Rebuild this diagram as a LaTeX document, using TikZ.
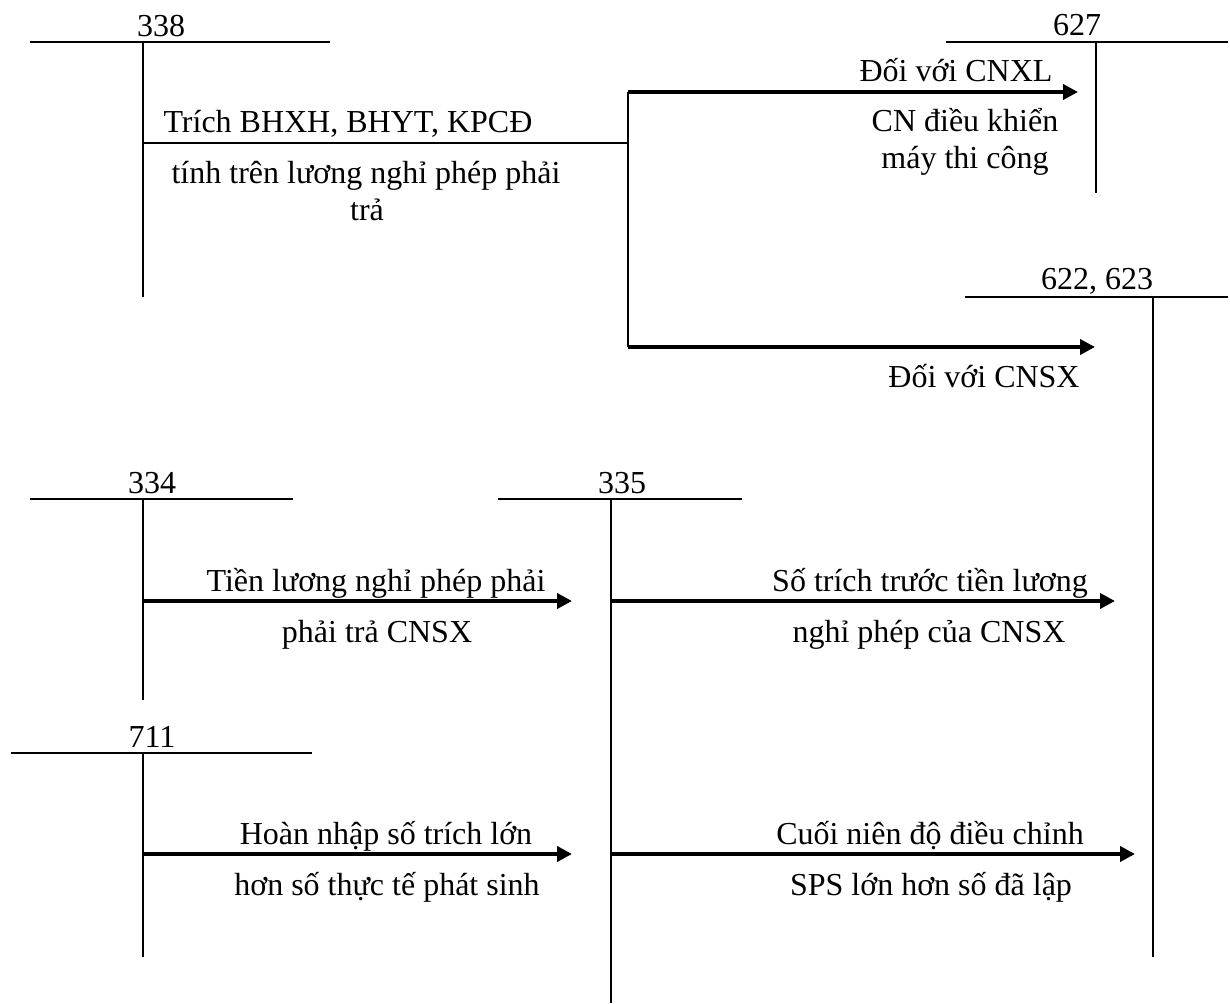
\documentclass[tikz,border=0pt]{standalone}
\usepackage{fontspec}
\setmainfont{Liberation Serif}
\usetikzlibrary{arrows.meta}
\begin{document}
\begin{tikzpicture}[x=1pt,y=-1pt,
  acct/.style={line width=2.5pt},
  tee/.style={line width=2pt},
  flow/.style={line width=4pt,-{Triangle[length=15pt,width=15pt]}},
  link/.style={line width=2pt},
  lbl/.style={font=\fontsize{32}{38}\selectfont, inner sep=0pt, anchor=base},
]
\fill[white] (0,0) rectangle (1230,1003);
\useasboundingbox (0,0) rectangle (1230,1003);

% ---- T-accounts ----
% 338
\coordinate (L338) at (30,42);  \coordinate (R338) at (330,42);
\coordinate (T338) at (143,42); \coordinate (B338) at (143,297);
\node[lbl] (n338) at (161,37) {338};
\draw[acct] (L338) -- (R338);
\draw[tee] (T338) -- (B338);
% 627
\coordinate (L627) at (946,42);  \coordinate (R627) at (1228,42);
\coordinate (T627) at (1096,42); \coordinate (B627) at (1096,193);
\node[lbl] (n627) at (1077,36) {627};
\draw[acct] (L627) -- (R627);
\draw[tee] (T627) -- (B627);
% 622, 623
\coordinate (L622) at (965,297);  \coordinate (R622) at (1228,297);
\coordinate (T622) at (1153,297); \coordinate (B622) at (1153,957);
\node[lbl] (n622) at (1097,289) {622, 623};
\draw[acct] (L622) -- (R622);
\draw[tee] (T622) -- (B622);
% 334
\coordinate (L334) at (30,499);  \coordinate (R334) at (293,499);
\coordinate (T334) at (143,499); \coordinate (B334) at (143,700);
\node[lbl] (n334) at (152,493) {334};
\draw[acct] (L334) -- (R334);
\draw[tee] (T334) -- (B334);
% 335
\coordinate (L335) at (498,499);  \coordinate (R335) at (742,499);
\coordinate (T335) at (611,499); \coordinate (B335) at (611,1003);
\node[lbl] (n335) at (622,493) {335};
\draw[acct] (L335) -- (R335);
\draw[tee] (T335) -- (B335);
% 711
\coordinate (L711) at (11,753);  \coordinate (R711) at (312,753);
\coordinate (T711) at (143,753); \coordinate (B711) at (143,957);
\node[lbl] (n711) at (152,747) {711};
\draw[acct] (L711) -- (R711);
\draw[tee] (T711) -- (B711);

% ---- connectors ----
\coordinate (s338) at (143,143);
\coordinate (j338) at (628,143);
\coordinate (jtop) at (628,92);
\coordinate (jbot) at (628,347);
\coordinate (e627) at (1078,92);
\coordinate (e622a) at (1095,347);
\draw[link] (s338) -- (j338);
\draw[link] (jtop) -- (jbot);
\draw[flow] (jtop) -- (e627);
\draw[flow] (jbot) -- (e622a);

\coordinate (s334) at (143,601);
\coordinate (e335a) at (572,601);
\coordinate (s335a) at (611,601);
\coordinate (e622b) at (1115,601);
\draw[flow] (s334) -- (e335a);
\draw[flow] (s335a) -- (e622b);

\coordinate (s711) at (143,854);
\coordinate (e335b) at (572,854);
\coordinate (s335b) at (611,854);
\coordinate (e622c) at (1135,854);
\draw[flow] (s711) -- (e335b);
\draw[flow] (s335b) -- (e622c);

% ---- labels ----
\node[lbl] (t1) at (348,133) {Trích BHXH, BHYT, KPCĐ};
\node[lbl] (t2) at (366,183) {tính trên lương nghỉ phép phải};
\node[lbl] (t3) at (367,220) {trả};
\node[lbl] (t4) at (956,82) {Đối với CNXL};
\node[lbl] (t5) at (965,132) {CN điều khiển};
\node[lbl] (t6) at (965,168) {máy thi công};
\node[lbl] (t7) at (984,387) {Đối với CNSX};
\node[lbl] (t8) at (376,591) {Tiền lương nghỉ phép phải};
\node[lbl] (t9) at (377,642) {phải trả CNSX};
\node[lbl] (t10) at (930,591) {Số trích trước tiền lương};
\node[lbl] (t11) at (929,642) {nghỉ phép của CNSX};
\node[lbl] (t12) at (386,844) {Hoàn nhập số trích lớn};
\node[lbl] (t13) at (387,895) {hơn số thực tế phát sinh};
\node[lbl] (t14) at (930,844) {Cuối niên độ điều chỉnh};
\node[lbl] (t15) at (931,895) {SPS lớn hơn số đã lập};
\end{tikzpicture}
\end{document}
